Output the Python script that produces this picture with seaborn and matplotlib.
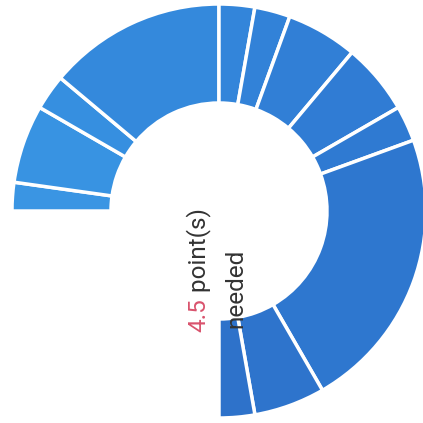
import matplotlib
matplotlib.use("Agg")
import matplotlib.pyplot as plt
import seaborn as sns
import numpy as np

# Segment sizes (share of a full circle = 360), drawn clockwise from 9 o'clock
segment_values = [8, 22, 10, 50, 10, 10, 20, 20, 10, 80, 20, 10]
full_circle = 360
segment_colors = ["#3a95e3", "#3893e2", "#368fe0", "#3489dc", "#3385da", "#3282d8",
                  "#317fd6", "#307cd4", "#2f7ad2", "#2e77cf", "#2e74cc", "#2e72ca"]
points_needed = "4.5"
label_rest = " point(s)"
label_line2 = "needed"

sns.set_theme(style="white")
plt.rcParams['font.family'] = ['Roboto', 'DejaVu Sans']

fig = plt.figure(figsize=(4.23, 4.23), dpi=100)
ax = fig.add_axes([0, 0, 1, 1])

fracs = np.array(segment_values) / full_circle
ax.pie(fracs, normalize=False, startangle=180, counterclock=False,
       colors=segment_colors, radius=207, center=(219, 212),
       wedgeprops=dict(width=99, edgecolor="white", linewidth=2.5))
ax.set_xlim(0, 423)
ax.set_ylim(0, 423)
ax.set_aspect("equal")
ax.axis("off")

t1 = ax.text(199, 91, points_needed, rotation=90, ha="center", va="bottom",
             color="#d9536d", fontsize=17.5)
fig.canvas.draw()
bb = t1.get_window_extent().transformed(ax.transData.inverted())
ax.text(199, bb.y1, label_rest, rotation=90, ha="center", va="bottom",
        color="#333333", fontsize=17.5)
ax.text(236, 95, label_line2, rotation=90, ha="center", va="bottom",
        color="#333333", fontsize=17.5)

fig.savefig("out.png", dpi=100, facecolor="white")
